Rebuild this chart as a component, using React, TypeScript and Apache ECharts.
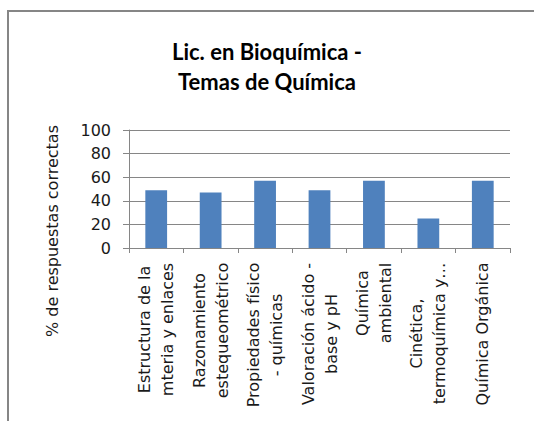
import React, { useEffect, useRef } from "react";
import * as echarts from "echarts";

const TITLE = "Lic. en Bioquímica -\nTemas de Química";
const Y_NAME = "% de respuestas correctas";
const categories = [
  "Estructura de la\nmteria y enlaces",
  "Razonamiento\nestequeométrico",
  "Propiedades físico\n- químicas",
  "Valoración ácido -\nbase y pH",
  "Química\nambiental",
  "Cinética,\ntermoquímica y…",
  "Química Orgánica",
];
const values = [49, 47, 57, 49, 57, 25, 57];
const yTicks = { min: 0, max: 100, interval: 20 };

const FONT = "DejaVu Sans";
const FS = 16;

function measure(text: string): number {
  const c = document.createElement("canvas");
  const ctx = c.getContext("2d");
  if (!ctx) return text.length * 9;
  ctx.font = `${FS}px "${FONT}"`;
  return ctx.measureText(text).width;
}

export default function App() {
  const ref = useRef<HTMLDivElement>(null);
  useEffect(() => {
    if (!ref.current) return;
    const chart = echarts.init(ref.current, undefined, { renderer: "svg" });
    const rich: Record<string, any> = {};
    categories.forEach((c, i) => {
      const w = Math.max(...c.split("\n").map(measure));
      rich["c" + i] = {
        width: Math.ceil(w) + 1,
        align: "center",
        fontFamily: FONT,
        fontSize: FS,
        lineHeight: 23,
        color: "#1a1a1a",
      };
    });
    chart.setOption({
      animation: false,
      backgroundColor: "#ffffff",
      title: {
        text: TITLE,
        left: "center",
        top: 31,
        textStyle: {
          fontFamily: "Lato",
          fontWeight: "bold",
          fontSize: 22,
          lineHeight: 30,
          color: "#000000",
        },
      },
      graphic: [
        {
          type: "rect",
          shape: { x: 8, y: 11, width: 700, height: 700 },
          style: { fill: "none", stroke: "#868686", lineWidth: 2 },
          silent: true,
        },
        {
          type: "text",
          x: 52,
          y: 231,
          rotation: Math.PI / 2,
          style: {
            text: Y_NAME,
            fontFamily: FONT,
            fontSize: FS,
            fill: "#1a1a1a",
            align: "center",
            verticalAlign: "middle",
          },
        },
      ],
      grid: { left: 129, right: 24, top: 130, bottom: 173 },
      xAxis: {
        type: "category",
        data: categories,
        axisLine: { lineStyle: { color: "#868686", width: 1 } },
        axisTick: { show: true, length: 5, alignWithLabel: false, lineStyle: { color: "#868686" } },
        axisLabel: {
          rotate: 90,
          interval: 0,
          margin: 14,
          fontFamily: FONT,
          fontSize: FS,
          lineHeight: 23,
          color: "#1a1a1a",
          formatter: (val: string, idx: number) =>
            val
              .split("\n")
              .map((l) => `{c${idx}|${l}}`)
              .join("\n"),
          rich,
        },
      },
      yAxis: {
        type: "value",
        min: yTicks.min,
        max: yTicks.max,
        interval: yTicks.interval,
        axisLine: { show: true, lineStyle: { color: "#868686", width: 1 } },
        axisTick: { show: true, length: 6, lineStyle: { color: "#868686" } },
        splitLine: { lineStyle: { color: "#868686", width: 1 } },
        axisLabel: {
          margin: 18,
          fontFamily: FONT,
          fontSize: FS,
          color: "#1a1a1a",
        },
      },
      series: [
        {
          type: "bar",
          data: values,
          barWidth: "40%",
          itemStyle: { color: "#4F81BD" },
        },
      ],
    });
    return () => chart.dispose();
  }, []);
  return (
    <div
      ref={ref}
      style={{ position: "fixed", left: 0, top: 0, width: 534, height: 421, background: "#fff" }}
    />
  );
}
